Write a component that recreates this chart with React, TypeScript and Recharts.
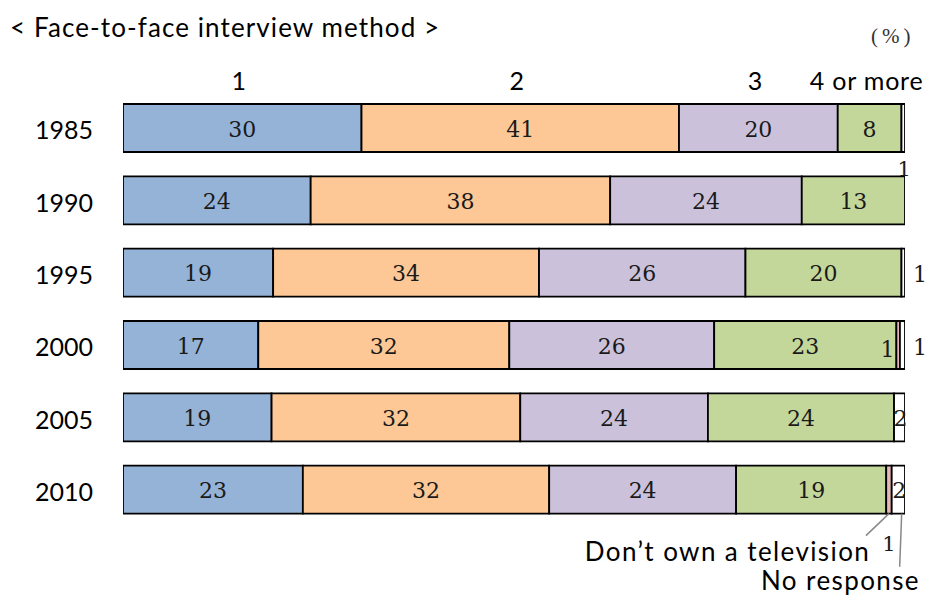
import React from 'react';
import { BarChart, Bar, XAxis, YAxis, LabelList } from 'recharts';

const years = ['1985', '1990', '1995', '2000', '2005', '2010'];
const seriesNames = ['1', '2', '3', '4 or more', 'Don\u2019t own a television', 'No response'];

const one = [30.5, 24.0, 19.2, 17.3, 19.0, 23.0];
const two = [40.6, 38.3, 34.0, 32.1, 31.8, 31.5];
const three = [20.3, 24.5, 26.4, 26.2, 24.0, 23.9];
const fourPlus = [8.15, 13.2, 19.95, 23.3, 23.8, 19.2];
const noTv = [0, 0, 0, 0.45, 0, 0.7];
const noResp = [0.45, 0, 0.45, 0.65, 1.4, 1.7];

const oneLabels = ['30', '24', '19', '17', '19', '23'];
const twoLabels = ['41', '38', '34', '32', '32', '32'];
const threeLabels = ['20', '24', '26', '26', '24', '24'];
const fourLabels = ['8', '13', '20', '23', '24', '19'];
const noTvLabels = ['', '', '', '1', '', '1'];
const noRespLabels = ['1', '', '1', '1', '2', '2'];

const data = years.map((year, i) => ({
  year,
  one: one[i],
  two: two[i],
  three: three[i],
  fourPlus: fourPlus[i],
  noTv: noTv[i],
  noResp: noResp[i],
}));

const SERIF = '"DejaVu Serif", "Liberation Serif", serif';
const SANS = 'Lato, "Open Sans", sans-serif';

const geom = (props: any) => {
  const vb = props.viewBox && props.viewBox.width !== undefined ? props.viewBox : props;
  return { x: Number(vb.x), y: Number(vb.y), width: Number(vb.width), height: Number(vb.height) };
};

// index of the category from the label's value (LabelList dataKey="year")
const idx = (props: any) => years.indexOf(String(props.value));

const valueLabel = (labels: string[], header: string) => (props: any) => {
  const { x, y, width, height } = geom(props);
  const i = idx(props);
  if (i < 0) return null;
  return (
    <g>
      <text
        x={x + width / 2}
        y={y + height / 2 + 1}
        textAnchor="middle"
        dominantBaseline="central"
        fontFamily={SERIF}
        fontSize={22}
        fill="#1a1a1a"
      >
        {labels[i]}
      </text>
      {i === 0 && (
        <text
          x={x + width / 2 - 3}
          y={y - 24}
          textAnchor="middle"
          dominantBaseline="central"
          fontFamily={SANS}
          fontSize={25}
          letterSpacing={0.8}
          fill="#000"
        >
          {header}
        </text>
      )}
    </g>
  );
};

const noTvLabel = (props: any) => {
  const { x, y, width, height } = geom(props);
  const i = idx(props);
  const label = noTvLabels[i];
  if (!label) return null;
  if (i === years.length - 1) {
    const cx = x + width / 2;
    return (
      <g>
        <line x1={cx} y1={y + height} x2={cx - 23} y2={y + height + 22} stroke="#888" strokeWidth={1.5} />
        <text x={cx} y={y + height + 30} textAnchor="middle" dominantBaseline="central" fontFamily={SERIF} fontSize={21} fill="#1a1a1a">
          {label}
        </text>
        <text x={x - 16} y={y + height + 37} textAnchor="end" dominantBaseline="central" fontFamily={SANS} fontSize={26} letterSpacing={1.4} fill="#000">
          {seriesNames[4]}
        </text>
      </g>
    );
  }
  return (
    <text x={x - 2} y={y + height / 2 + 4} textAnchor="end" dominantBaseline="central" fontFamily={SERIF} fontSize={22} fill="#1a1a1a">
      {label}
    </text>
  );
};

const noRespLabel = (props: any) => {
  const { x, y, width, height } = geom(props);
  const i = idx(props);
  const label = noRespLabels[i];
  if (!label) return null;
  if (i === 0) {
    return (
      <text x={x + width / 2 + 1} y={y + height + 17} textAnchor="middle" dominantBaseline="central" fontFamily={SERIF} fontSize={21} fill="#1a1a1a">
        {label}
      </text>
    );
  }
  if (width < 8) {
    return (
      <text x={x + width + 15} y={y + height / 2 + 2} textAnchor="middle" dominantBaseline="central" fontFamily={SERIF} fontSize={22} fill="#1a1a1a">
        {label}
      </text>
    );
  }
  return (
    <g>
      <text x={x + width / 2 + 1} y={y + height / 2 + 1} textAnchor="middle" dominantBaseline="central" fontFamily={SERIF} fontSize={22} fill="#1a1a1a">
        {label}
      </text>
      {i === years.length - 1 && (
        <g>
          <line x1={x + width * 0.75} y1={y + height} x2={x + width * 0.6} y2={y + height + 53} stroke="#888" strokeWidth={1.5} />
          <text x={x + width + 15} y={y + height + 66} textAnchor="end" dominantBaseline="central" fontFamily={SANS} fontSize={26} letterSpacing={1.4} fill="#000">
            {seriesNames[5]}
          </text>
        </g>
      )}
    </g>
  );
};

const YearTick = (props: any) => {
  const { x, y, payload } = props;
  return (
    <text x={x} y={y + 1} textAnchor="end" dominantBaseline="central" fontFamily={SANS} fontSize={25} fill="#000">
      {payload.value}
    </text>
  );
};

const STROKE = '#000';
const SW = 1.8;

export default function App() {
  return (
    <div style={{ position: 'absolute', left: 0, top: 0, width: 936, height: 599, background: '#fff' }}>
      <div
        style={{
          position: 'absolute',
          left: 10,
          top: 12,
          lineHeight: '30px',
          fontFamily: SANS,
          fontSize: 26,
          letterSpacing: 1.1,
          color: '#000',
          whiteSpace: 'nowrap',
        }}
      >
        {'< Face-to-face interview method >'}
      </div>
      <div
        style={{
          position: 'absolute',
          left: 871,
          top: 23,
          lineHeight: '26px',
          fontFamily: '"Liberation Serif", serif',
          fontSize: 21,
          letterSpacing: 4,
          color: '#333',
          whiteSpace: 'nowrap',
        }}
      >
        (%)
      </div>
      <BarChart
        width={936}
        height={599}
        data={data}
        layout="vertical"
        margin={{ top: 92, right: 31, bottom: 73, left: 0 }}
        barSize={48}
      >
        <XAxis type="number" domain={[0, 100]} allowDataOverflow hide />
        <YAxis
          type="category"
          dataKey="year"
          width={123}
          axisLine={false}
          tickLine={false}
          tickSize={0}
          tickMargin={30}
          tick={<YearTick />}
          interval={0}
        />
        <Bar dataKey="one" stackId="a" fill="#95B3D7" stroke={STROKE} strokeWidth={SW} isAnimationActive={false}>
          <LabelList dataKey="year" content={valueLabel(oneLabels, seriesNames[0])} />
        </Bar>
        <Bar dataKey="two" stackId="a" fill="#FDC896" stroke={STROKE} strokeWidth={SW} isAnimationActive={false}>
          <LabelList dataKey="year" content={valueLabel(twoLabels, seriesNames[1])} />
        </Bar>
        <Bar dataKey="three" stackId="a" fill="#CCC1DA" stroke={STROKE} strokeWidth={SW} isAnimationActive={false}>
          <LabelList dataKey="year" content={valueLabel(threeLabels, seriesNames[2])} />
        </Bar>
        <Bar dataKey="fourPlus" stackId="a" fill="#C4D79B" stroke={STROKE} strokeWidth={SW} isAnimationActive={false}>
          <LabelList dataKey="year" content={valueLabel(fourLabels, seriesNames[3])} />
        </Bar>
        <Bar dataKey="noTv" stackId="a" fill="#E6B9B8" stroke={STROKE} strokeWidth={SW} isAnimationActive={false}>
          <LabelList dataKey="year" content={noTvLabel} />
        </Bar>
        <Bar dataKey="noResp" stackId="a" fill="#FFFFFF" stroke={STROKE} strokeWidth={SW} isAnimationActive={false}>
          <LabelList dataKey="year" content={noRespLabel} />
        </Bar>
      </BarChart>
    </div>
  );
}
